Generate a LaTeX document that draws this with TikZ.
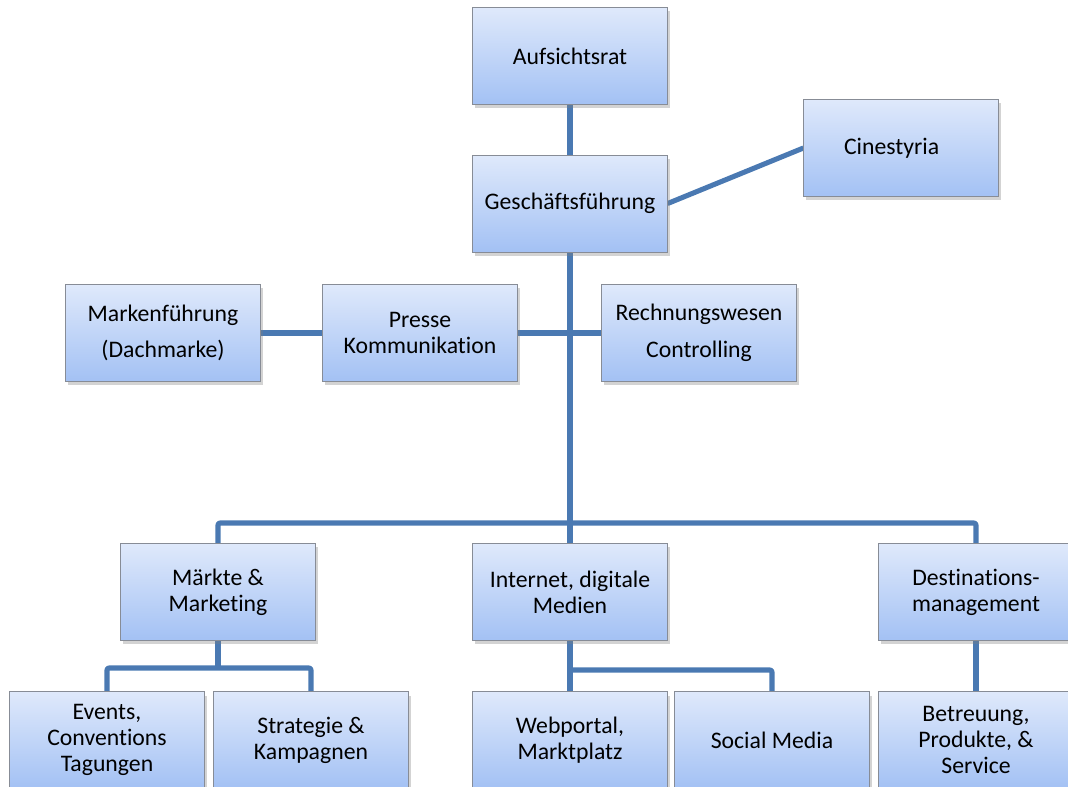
\documentclass[tikz,border=0pt]{standalone}
\usepackage{fontspec}
\setmainfont{Carlito}[Ligatures=NoCommon]
\usepackage{tikz}
\usetikzlibrary{shadows,positioning,backgrounds}
\definecolor{boxtop}{RGB}{223,233,251}
\definecolor{boxbot}{RGB}{163,193,244}
\definecolor{boxline}{RGB}{135,140,150}
\definecolor{linkblue}{RGB}{74,121,178}
\tikzset{
    unit/.style ={rectangle, draw=boxline, thin, top color=boxtop, bottom color=boxbot,
        minimum width=146pt, minimum height=72.75pt, inner sep=2pt, align=center,
        font=\fontsize{17.8}{19.5}\selectfont,
        drop shadow={opacity=0.35, shadow xshift=2pt, shadow yshift=-3pt}},
    link/.style = {linkblue, line width=3.8pt, line join=round, rounded corners=1.5pt}
}
\begin{document}
\begin{tikzpicture}[x=0.75pt,y=-0.75pt]
    \useasboundingbox (0,0) rectangle (1068,787);
    % Leitung
    \node[unit] (auf) at (570,56) {Aufsichtsrat};
    \node[unit] (gf) [below=37.5pt of auf] {Gesch\"aftsf\"uhrung};
    \node[unit] (cin) at (901,148) {Cinestyria\hspace*{14pt}};
    % Stabsstellen
    \node[unit] (pk) at (420,333) {Presse\\Kommunikation};
    \node[unit] (mf) at (163,333) {Markenf\"uhrung\\[8pt](Dachmarke)};
    \node[unit] (rw) at (699,333) {Rechnungswesen\\[8pt]Controlling};
    % Bereiche
    \node[unit] (mkt) at (218,592) {M\"arkte \&\\Marketing};
    \node[unit] (inet) at (570,592) {Internet, digitale\\Medien};
    \node[unit] (dest) at (976,592) {Destinations-\\management};
    % Abteilungen
    \node[unit] (ev) at (107,740) {Events,\\Conventions\\Tagungen};
    \node[unit] (st) at (311,740) {Strategie \&\\Kampagnen};
    \node[unit] (web) at (570,740) {Webportal,\\Marktplatz};
    \node[unit] (sm) at (772,740) {Social Media};
    \node[unit] (bps) at (976,740) {Betreuung,\\Produkte, \&\\Service};
    % Verbindungen
    \coordinate (bus) at (570,523);
    \coordinate (mktsplit) at (218,668);
    \coordinate (websplit) at (570,670);
    \begin{scope}[on background layer]
        \draw[link] (auf) -- (gf);
        \draw[link] (gf.east) -- (cin.west);
        \draw[link] (gf) -- (bus);
        \draw[link] (mf) -- (pk);
        \draw[link] (pk) -- (rw);
        \draw[link] (mkt.north) |- (bus) -| (dest.north);
        \draw[link] (bus) -- (inet);
        \draw[link] (mkt) -- (mktsplit);
        \draw[link] (ev.north) |- (mktsplit) -| (st.north);
        \draw[link] (inet) -- (web);
        \draw[link] (websplit) -| (sm.north);
        \draw[link] (dest) -- (bps);
    \end{scope}
\end{tikzpicture}
\end{document}
